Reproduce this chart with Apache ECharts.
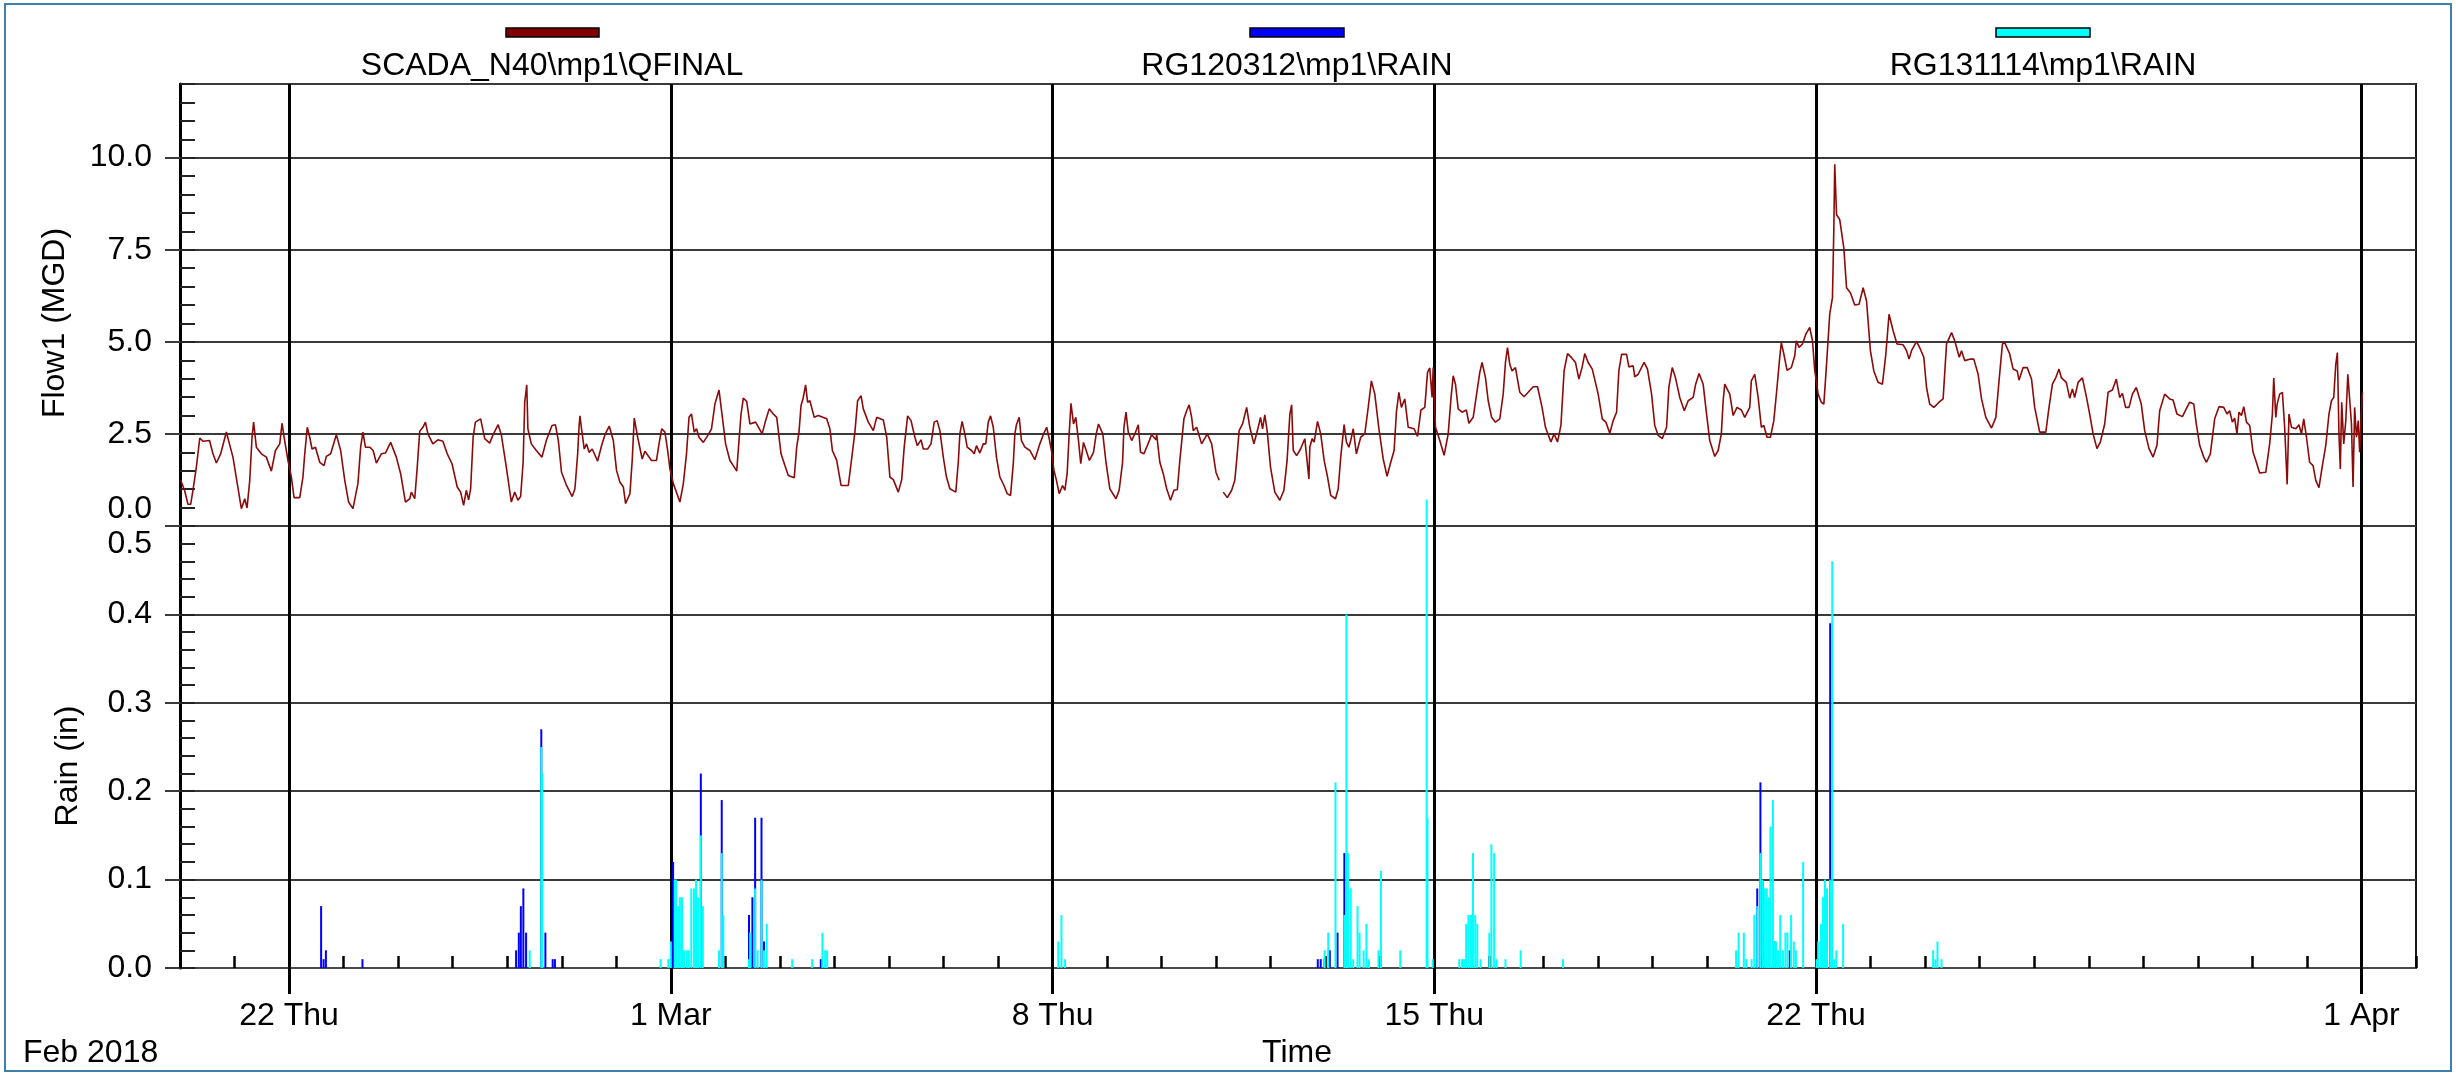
<!DOCTYPE html>
<html>
<head>
<meta charset="utf-8">
<script src="https://cdn.jsdelivr.net/npm/echarts@6/dist/echarts.min.js"></script>
<style>
  html, body { margin: 0; padding: 0; background: #fff; }
  #chart { width: 2456px; height: 1076px; }
</style>
</head>
<body>
<div id="chart"></div>
<script>
// x values are hours since 20 Feb 2018 00:00
const xMax = 984;
const majorHours = [48, 216, 384, 552, 720, 960];
const majorLabels = ['22 Thu', '1 Mar', '8 Thu', '15 Thu', '22 Thu', '1 Apr'];
const seriesNames = ['SCADA_N40\\mp1\\QFINAL', 'RG120312\\mp1\\RAIN', 'RG131114\\mp1\\RAIN'];

// Flow1 (MGD), [hour, value]
const flowPoints = [
  [0.3,1.24],[2.0,0.97],[3.5,0.59],[4.7,0.59],[5.7,0.97],[7.2,1.6],[8.7,2.39],[10.1,2.3],[13.0,2.32],[14.5,1.96],
  [16.0,1.71],[17.9,1.96],[20.4,2.55],[21.1,2.5],[23.3,1.87],[25.2,1.15],[27.0,0.47],[28.5,0.74],[29.5,0.49],[30.7,1.24],
  [31.7,2.41],[32.4,2.82],[33.6,2.14],[35.8,1.96],[38.0,1.87],[40.2,1.49],[42.0,2.05],[43.9,2.23],[44.9,2.79],[45.8,2.41],
  [47.5,1.78],[49.0,1.33],[50.2,0.77],[52.7,0.77],[54.1,1.33],[54.9,1.96],[56.0,2.68],[57.1,2.41],[58.1,2.09],[59.6,2.14],
  [61.5,1.73],[63.4,1.64],[64.4,1.89],[66.3,1.96],[68.8,2.48],[70.7,2.05],[72.5,1.24],[74.2,0.65],[76.1,0.47],[78.3,1.15],
  [79.5,2.14],[80.5,2.55],[81.6,2.14],[83.5,2.14],[85.0,2.05],[86.4,1.71],[88.6,1.96],[90.4,1.98],[92.7,2.27],[95.2,1.87],
  [97.1,1.42],[99.2,0.65],[101.1,0.74],[101.8,0.92],[103.3,0.74],[104.4,1.6],[105.5,2.57],[106.9,2.68],[108.0,2.82],[109.1,2.5],
  [111.3,2.23],[113.5,2.34],[115.7,2.3],[117.6,1.96],[119.7,1.69],[122.0,1.06],[123.5,0.92],[124.8,0.56],[126.0,0.97],[127.0,0.71],
  [127.9,1.01],[129.0,2.41],[130.0,2.82],[132.3,2.91],[134.1,2.37],[136.3,2.25],[137.8,2.48],[140.0,2.75],[141.4,2.48],[143.6,1.6],
  [145.8,0.65],[147.3,0.92],[148.7,0.7],[149.9,0.8],[151.0,1.73],[151.7,3.36],[152.6,3.83],[153.1,2.64],[154.6,2.23],[156.8,2.05],
  [159.3,1.87],[161.2,2.32],[163.7,2.73],[165.2,2.75],[166.5,2.32],[167.9,1.46],[170.1,1.10],[172.6,0.80],[173.8,1.01],[175.0,1.96],
  [175.6,2.68],[176.0,2.99],[176.7,2.64],[177.9,2.09],[178.9,2.23],[180.0,2.0],[181.4,2.09],[183.8,1.76],[185.5,2.18],[187.0,2.48],
  [188.9,2.71],[190.7,2.32],[192.1,1.51],[193.6,1.19],[195.1,1.06],[196.1,0.61],[198.0,0.88],[199.0,1.78],[199.9,2.93],[201.4,2.41],
  [203.4,1.82],[204.6,2.03],[207.5,1.78],[209.7,1.78],[210.8,2.23],[212.0,2.64],[213.4,2.55],[214.6,2.05],[215.6,1.55],[217.1,1.15],
  [220.0,0.65],[221.5,1.15],[222.9,1.96],[224.0,2.95],[225.1,3.04],[226.3,2.55],[227.3,2.64],[228.4,2.41],[230.3,2.27],[232.5,2.48],
  [233.9,2.64],[235.4,3.31],[237.2,3.69],[238.4,3.09],[240.1,2.23],[242.0,1.78],[243.5,1.64],[245.0,1.49],[246.0,2.32],[246.9,3.04],
  [247.9,3.47],[249.4,3.38],[250.8,2.77],[253.3,2.82],[256.2,2.5],[257.7,2.86],[259.3,3.18],[261.1,3.04],[262.6,2.95],[264.5,1.96],
  [266.2,1.64],[267.7,1.37],[270.3,1.31],[271.4,2.14],[272.4,2.55],[273.3,3.27],[274.3,3.49],[275.3,3.83],[276.2,3.36],[277.2,3.40],
  [279.1,2.95],[280.9,3.0],[284.6,2.91],[286.0,2.64],[287.1,2.05],[289.0,1.78],[290.9,1.10],[294.1,1.10],[295.3,1.69],[297.0,2.55],
  [298.2,3.40],[299.7,3.54],[300.7,3.18],[302.9,2.82],[305.1,2.59],[306.6,2.95],[309.5,2.88],[311.0,2.41],[312.4,1.33],[313.9,1.26],
  [316.1,0.92],[317.6,1.26],[318.7,2.14],[320.2,2.99],[321.7,2.86],[323.4,2.41],[324.5,2.18],[326.1,2.34],[327.1,2.09],[329.0,2.09],
  [330.5,2.23],[331.9,2.82],[333.2,2.86],[334.4,2.59],[335.9,1.87],[337.3,1.33],[338.8,1.01],[341.4,0.92],[342.5,1.73],[343.2,2.5],
  [344.2,2.84],[345.4,2.5],[346.4,2.14],[348.3,2.05],[349.5,1.96],[350.5,2.18],[352.0,1.98],[353.5,2.23],[354.6,2.23],[355.7,2.82],
  [356.7,2.99],[357.9,2.68],[359.3,1.87],[360.8,1.33],[362.6,1.10],[364.0,0.88],[365.5,0.83],[366.7,1.69],[367.4,2.5],[368.1,2.75],
  [369.3,2.95],[370.3,2.32],[371.8,2.14],[374.0,2.05],[376.2,1.80],[378.4,2.23],[379.9,2.48],[381.4,2.68],[382.5,2.37],[383.5,2.05],
  [384.6,1.51],[385.7,1.24],[386.9,0.88],[388.4,1.10],[389.4,0.97],[390.4,1.42],[391.3,2.5],[392.1,3.33],[393.2,2.77],[394.2,2.95],
  [395.4,2.32],[396.4,1.69],[397.6,2.27],[398.8,2.05],[400.2,1.78],[402.0,2.0],[403.2,2.5],[404.2,2.77],[406.1,2.5],[407.5,1.73],
  [409.2,1.01],[411.9,0.74],[413.3,0.97],[414.8,1.73],[415.4,2.68],[416.3,3.09],[417.3,2.55],[418.8,2.32],[420.2,2.5],[421.7,2.75],
  [422.7,2.0],[424.2,1.96],[425.4,2.14],[427.6,2.48],[429.5,2.34],[429.8,2.48],[431.2,1.73],[432.7,1.42],[434.2,1.01],[435.9,0.70],
  [437.4,0.97],[438.9,0.99],[440.0,1.78],[441.8,2.91],[443.0,3.13],[444.1,3.29],[445.2,2.95],[445.9,2.59],[447.4,2.68],[449.6,2.23],
  [452.1,2.5],[454.0,2.23],[455.9,1.46],[457.3,1.24],[458.2,'-'],[459.1,0.92],[460.9,0.77],[462.8,0.97],[464.2,1.24],[465.0,1.78],
  [466.1,2.59],[467.6,2.77],[469.4,3.22],[470.8,2.68],[472.6,2.23],[474.5,2.68],[475.5,2.95],[476.4,2.64],[477.4,3.02],[478.5,2.55],
  [479.9,1.6],[481.8,0.92],[484.0,0.70],[485.8,0.97],[487.2,1.78],[488.4,3.02],[489.2,3.29],[489.9,2.05],[491.4,1.91],[493.1,2.09],
  [495.0,2.37],[496.8,1.28],[497.2,2.14],[498.2,2.37],[499.1,2.28],[500.6,2.84],[502.0,2.5],[503.5,1.78],[505.0,1.33],[506.4,0.83],
  [508.5,0.74],[509.7,1.01],[510.8,1.87],[512.3,2.75],[513.3,2.28],[514.4,2.14],[515.2,2.32],[516.3,2.64],[517.7,1.96],[519.6,2.41],
  [521.4,2.5],[522.9,3.22],[524.3,3.94],[525.8,3.58],[527.6,2.64],[529.5,1.82],[531.2,1.35],[532.8,1.73],[534.3,2.05],[535.3,3.09],
  [536.4,3.63],[537.5,3.22],[539.0,3.45],[540.5,2.68],[543.1,2.64],[544.6,2.43],[546.1,3.15],[547.8,3.22],[549.0,4.17],[550.0,4.29],
  [551.0,3.49],[551.5,4.30],[552.5,2.68],[554.4,2.32],[556.3,1.92],[558.1,2.5],[559.3,3.45],[560.3,4.08],[561.3,3.85],[562.5,3.18],
  [564.2,3.09],[566.1,3.15],[567.2,2.79],[569.1,2.95],[570.5,3.54],[572.0,4.17],[573.0,4.44],[574.5,4.03],[575.7,3.40],[577.2,2.95],
  [578.9,2.82],[580.8,2.91],[582.3,3.58],[583.3,4.44],[584.2,4.84],[585.2,4.39],[586.2,4.21],[587.7,4.30],[589.6,3.63],[591.5,3.51],
  [593.3,3.63],[595.5,3.78],[597.4,3.78],[599.4,3.22],[600.9,2.68],[603.3,2.28],[604.7,2.5],[606.2,2.28],[607.7,2.73],[609.1,4.21],
  [610.6,4.68],[612.4,4.57],[614.1,4.44],[615.6,3.99],[617.0,4.30],[618.2,4.68],[619.7,4.44],[621.5,4.26],[624.1,3.58],[625.9,2.91],
  [627.5,2.82],[629.2,2.52],[630.7,2.86],[632.2,3.09],[633.2,4.21],[634.4,4.66],[636.6,4.66],[637.6,4.32],[639.5,4.35],[640.2,4.05],
  [641.7,4.12],[644.3,4.44],[645.8,4.26],[647.6,3.58],[649.0,2.73],[650.5,2.46],[652.3,2.37],[654.2,2.68],[655.2,3.76],[656.7,4.30],
  [658.1,4.03],[660.0,3.49],[662.0,3.13],[663.7,3.40],[665.9,3.49],[667.0,3.85],[668.5,4.14],[670.3,3.85],[671.7,3.09],[673.2,2.32],
  [675.4,1.89],[676.9,2.05],[678.3,2.5],[679.1,3.40],[679.8,3.85],[682.0,3.58],[683.5,3.0],[685.2,3.22],[687.1,3.15],[688.6,2.95],
  [690.8,3.22],[691.5,3.94],[693.0,4.12],[694.5,3.49],[695.9,2.68],[697.0,2.73],[698.4,2.41],[699.9,2.41],[701.4,2.86],[702.8,3.76],
  [704.0,4.58],[704.7,4.98],[705.8,4.67],[707.2,4.23],[709.1,4.30],[710.6,4.62],[711.3,5.03],[712.5,4.85],[714.0,4.94],[715.5,5.21],
  [717.2,5.39],[718.4,5.03],[719.4,4.23],[720.9,3.58],[722.3,3.36],[723.4,3.31],[724.5,4.30],[726.0,5.75],[727.2,6.20],[727.8,8.05],
  [728.2,9.82],[729.0,8.45],[730.4,8.32],[732.2,7.55],[733.4,6.47],[735.1,6.33],[737.0,6.0],[738.9,6.02],[740.7,6.47],[742.2,6.11],
  [743.9,4.76],[745.4,4.21],[747.3,3.90],[749.2,3.85],[750.7,4.67],[752.1,5.75],[753.9,5.30],[755.6,4.94],[758.3,4.92],[759.8,4.76],
  [760.9,4.53],[762.0,4.76],[764.2,5.01],[765.9,4.80],[767.4,4.58],[768.6,3.76],[770.0,3.31],[771.8,3.22],[774.1,3.36],[775.9,3.45],
  [777.4,4.94],[779.6,5.25],[781.0,5.03],[783.0,4.58],[784.0,4.76],[785.4,4.49],[787.6,4.53],[789.4,4.53],[791.3,4.12],[792.8,3.45],
  [794.7,2.95],[797.2,2.66],[799.1,2.95],[800.5,3.94],[802.0,4.94],[803.0,4.98],[805.2,4.67],[806.7,4.26],[808.5,4.21],[809.3,3.96],
  [811.1,4.30],[812.9,4.30],[814.8,3.99],[816.2,3.22],[818.4,2.55],[821.1,2.55],[822.5,3.22],[824.0,3.85],[825.5,4.03],[826.9,4.26],
  [827.9,4.03],[830.1,3.90],[831.6,3.47],[832.8,3.72],[833.8,3.49],[835.3,3.90],[837.2,4.02],[839.0,3.49],[840.4,3.04],[841.9,2.5],
  [843.6,2.10],[845.1,2.28],[847.0,2.77],[848.5,3.63],[850.4,3.69],[852.1,3.99],[853.6,3.49],[854.8,3.60],[856.2,3.22],[857.7,3.22],
  [859.2,3.58],[860.9,3.76],[863.1,3.31],[864.6,2.59],[866.5,2.10],[868.3,1.87],[870.0,2.19],[871.2,3.13],[873.4,3.58],[875.6,3.45],
  [877.1,3.42],[878.8,3.04],[881.2,2.97],[882.9,3.18],[884.4,3.36],[886.2,3.31],[887.3,2.77],[888.8,2.19],[890.6,1.87],[891.8,1.73],
  [893.5,1.96],[895.4,2.91],[897.3,3.24],[899.4,3.22],[900.8,3.04],[902.0,3.13],[903.2,2.82],[904.2,2.93],[905.2,2.5],[906.1,3.09],
  [907.2,3.0],[908.2,3.24],[909.4,2.82],[910.8,2.73],[912.3,2.0],[913.5,1.78],[915.2,1.44],[917.9,1.46],[919.6,2.23],[920.8,3.04],
  [921.4,4.02],[922.3,2.95],[922.9,3.31],[924.0,3.58],[925.2,3.63],[926.2,2.68],[927.3,1.13],[928.1,3.04],[929.2,2.68],[931.1,2.64],
  [932.5,2.75],[933.6,2.5],[934.6,2.91],[935.8,2.41],[937.2,1.73],[938.7,1.64],[939.9,1.24],[941.3,1.04],[942.8,1.64],[944.3,2.19],
  [945.7,3.04],[946.8,3.40],[947.8,3.49],[948.7,4.39],[949.4,4.71],[950.1,2.5],[950.7,1.55],[951.3,3.36],[952.2,2.23],[953.1,2.86],
  [954.0,4.12],[954.8,4.17],[955.6,2.77],[956.3,1.06],[957.0,3.22],[957.8,2.41],[958.6,2.86],[959.2,2.0],[959.8,2.86],[960.4,3.63]
];

// RG120312 rain (in), [hour, value]
const blueRain = [
  [62.1,0.07],[63.2,0.01],[64.2,0.02],[80.3,0.01],
  [147.9,0.02],[149.1,0.04],[150.0,0.07],[151.1,0.09],[152.3,0.04],[159.0,0.27],[160.8,0.04],[164.0,0.01],[165.0,0.01],
  [217.0,0.12],[229.2,0.22],[238.4,0.19],[250.4,0.06],[251.9,0.08],[253.1,0.17],[255.9,0.17],[257.0,0.03],[282.0,0.01],
  [500.7,0.01],[502.0,0.01],[503.7,0.01],[506.0,0.02],[509.4,0.04],[512.4,0.13],
  [694.1,0.09],[695.5,0.21],[696.4,0.10],[701.7,0.03],[708.4,0.02],[726.2,0.39]
];

// RG131114 rain (in), [hour, value]
const cyanRain = [
  [153.9,0.02],[159.0,0.25],[159.4,0.22],
  [211.5,0.01],[214.9,0.01],[216.0,0.03],[217.7,0.10],[218.3,0.10],[219.3,0.07],[220.0,0.08],[220.9,0.08],[221.8,0.02],
  [223.0,0.02],[223.9,0.02],[225.0,0.09],[226.2,0.09],[227.1,0.10],[228.0,0.08],[229.2,0.15],[230.1,0.07],
  [237.2,0.02],[238.4,0.13],[239.1,0.06],[250.4,0.01],[250.9,0.04],[253.1,0.09],[254.2,0.02],[255.9,0.10],[257.0,0.02],
  [258.2,0.05],[269.4,0.01],[278.2,0.01],[282.7,0.04],[283.9,0.02],[284.8,0.02],
  [386.5,0.03],[387.9,0.06],[389.5,0.01],
  [503.7,0.02],[505.3,0.04],[508.5,0.21],[512.4,0.06],[513.3,0.40],[514.0,0.13],[515.2,0.09],[516.3,0.01],[518.2,0.07],
  [519.1,0.04],[520.9,0.02],[522.1,0.05],[523.2,0.01],[527.4,0.02],[528.5,0.11],[537.0,0.02],[548.6,0.53],[549.0,0.17],[551.3,0.01],
  [563.0,0.01],[564.2,0.01],[565.1,0.01],[566.0,0.05],[567.0,0.06],[568.1,0.06],[569.0,0.13],[570.0,0.06],[570.9,0.05],
  [572.3,0.01],[576.2,0.04],[577.1,0.14],[578.3,0.13],[579.4,0.01],[583.3,0.01],[590.0,0.02],[608.6,0.01],
  [684.8,0.02],[685.9,0.04],[688.2,0.04],[689.3,0.01],[691.6,0.01],[692.8,0.06],[694.1,0.07],[695.5,0.13],[696.4,0.10],
  [697.4,0.09],[698.3,0.09],[699.2,0.08],[699.9,0.16],[701.0,0.19],[701.7,0.03],[702.4,0.03],[703.3,0.02],[704.2,0.06],
  [705.4,0.02],[706.5,0.04],[707.4,0.04],[709.0,0.06],[710.2,0.03],[711.1,0.02],[714.3,0.12],
  [720.2,0.01],[720.9,0.03],[722.1,0.05],[723.0,0.08],[723.9,0.10],[724.8,0.09],[726.2,0.10],[727.1,0.46],[728.0,0.01],
  [728.9,0.02],[731.9,0.05],
  [771.5,0.02],[772.5,0.01],[773.4,0.03],[775.2,0.01]
];

const FONT = '"Liberation Sans", Arial, sans-serif';
const gridLine = { color: '#3a3a3a', width: 2 };
const majorLine = { color: '#000', width: 3 };

const chart = echarts.init(document.getElementById('chart'), null, { renderer: 'canvas' });

const hourAxis = (gridIndex, extra) => Object.assign({
  type: 'value', gridIndex, min: 0, max: xMax, position: 'bottom',
  axisLine: { show: false }, axisLabel: { show: false },
  axisTick: { show: false }, splitLine: { show: false }
}, extra);

chart.setOption({
  animation: false,
  backgroundColor: '#fff',
  grid: [
    { left: 180, right: 40, top: 84, height: 442, show: true, borderColor: '#1a1a1a', borderWidth: 2 },
    { left: 180, right: 40, top: 526, height: 442, show: true, borderColor: '#1a1a1a', borderWidth: 2 }
  ],
  xAxis: [
    hourAxis(0, {
      axisTick: { show: false, customValues: majorHours },
      splitLine: { show: true, lineStyle: majorLine }
    }),
    hourAxis(1, {
      axisLine: { show: true, onZero: false, lineStyle: { color: '#4a4a4a', width: 2 } },
      axisTick: { show: true, customValues: majorHours, inside: false, length: 26, lineStyle: majorLine },
      axisLabel: {
        show: true, customValues: majorHours, margin: 32,
        color: '#000', fontSize: 32, fontFamily: FONT,
        formatter: (v) => majorLabels[majorHours.indexOf(v)]
      },
      splitLine: { show: true, lineStyle: majorLine }
    }),
    hourAxis(1, {
      interval: 24,
      axisTick: { show: true, inside: true, length: 12, lineStyle: { color: '#000', width: 2.5 } }
    })
  ],
  yAxis: [
    {
      type: 'value', gridIndex: 0, position: 'left', min: 0, max: 12, interval: 2.5,
      axisLine: { show: true, lineStyle: { color: '#000', width: 3 } },
      axisTick: { show: true, inside: false, length: 15, lineStyle: gridLine },
      axisLabel: {
        color: '#000', fontSize: 32, fontFamily: FONT, margin: 28,
        showMinLabel: true, showMaxLabel: false,
        formatter: (v) => v === 0 ? '{lo|0.0}' : v.toFixed(1),
        rich: { lo: { fontSize: 32, fontFamily: FONT, color: '#000', padding: [0, 0, 34, 0] } }
      },
      splitLine: { show: true, lineStyle: gridLine }
    },
    {
      type: 'value', gridIndex: 0, position: 'left', offset: 0, min: 0, max: 12, interval: 0.5,
      axisLine: { show: false }, axisLabel: { show: false }, splitLine: { show: false },
      axisTick: { show: true, inside: true, length: 15, lineStyle: { color: '#222', width: 2 } }
    },
    {
      type: 'value', gridIndex: 1, position: 'left', min: 0, max: 0.5, interval: 0.1,
      axisLine: { show: true, lineStyle: { color: '#000', width: 3 } },
      axisTick: { show: true, inside: false, length: 15, lineStyle: gridLine },
      axisLabel: {
        color: '#000', fontSize: 32, fontFamily: FONT, margin: 28,
        showMinLabel: true, showMaxLabel: true,
        formatter: (v) => v >= 0.499 ? '{hi|0.5}' : v.toFixed(1),
        rich: { hi: { fontSize: 32, fontFamily: FONT, color: '#000', padding: [36, 0, 0, 0] } }
      },
      splitLine: { show: true, lineStyle: gridLine }
    },
    {
      type: 'value', gridIndex: 1, position: 'left', offset: 0, min: 0, max: 0.5, interval: 0.02,
      axisLine: { show: false }, axisLabel: { show: false }, splitLine: { show: false },
      axisTick: { show: true, inside: true, length: 15, lineStyle: { color: '#222', width: 2 } }
    }
  ],
  series: [
    {
      name: seriesNames[0], type: 'line', xAxisIndex: 0, yAxisIndex: 0,
      data: flowPoints, showSymbol: false, connectNulls: false,
      lineStyle: { color: '#8b0a0a', width: 1.6 }, z: 3
    },
    {
      name: seriesNames[1], type: 'bar', xAxisIndex: 1, yAxisIndex: 2,
      data: blueRain, barWidth: 2, barGap: '-100%',
      itemStyle: { color: '#0000ff' }, z: 3
    },
    {
      name: seriesNames[2], type: 'bar', xAxisIndex: 1, yAxisIndex: 2,
      data: cyanRain, barWidth: 2, barGap: '-100%', clip: false,
      itemStyle: { color: '#00ffff' }, z: 4
    }
  ],
  graphic: [
    { type: 'rect', shape: { x: 5, y: 4, width: 2446, height: 1067 }, style: { fill: 'none', stroke: '#3f7fab', lineWidth: 2 }, silent: true },
    { type: 'rect', shape: { x: 506, y: 28, width: 93, height: 9 }, style: { fill: '#800000', stroke: '#000', lineWidth: 1.5 } },
    { type: 'rect', shape: { x: 1250, y: 28, width: 94, height: 9 }, style: { fill: '#0000ff', stroke: '#000', lineWidth: 1.5 } },
    { type: 'rect', shape: { x: 1996, y: 28, width: 94, height: 9 }, style: { fill: '#00ffff', stroke: '#000', lineWidth: 1.5 } },
    { type: 'text', x: 552, y: 66, style: { text: seriesNames[0], fontSize: 32, fontFamily: FONT, fill: '#000', align: 'center', verticalAlign: 'middle' } },
    { type: 'text', x: 1297, y: 66, style: { text: seriesNames[1], fontSize: 32, fontFamily: FONT, fill: '#000', align: 'center', verticalAlign: 'middle' } },
    { type: 'text', x: 2043, y: 66, style: { text: seriesNames[2], fontSize: 32, fontFamily: FONT, fill: '#000', align: 'center', verticalAlign: 'middle' } },
    { type: 'text', x: 55, y: 323, rotation: Math.PI / 2, style: { text: 'Flow1 (MGD)', fontSize: 32, fontFamily: FONT, fill: '#000', align: 'center', verticalAlign: 'middle' } },
    { type: 'text', x: 68, y: 766, rotation: Math.PI / 2, style: { text: 'Rain (in)', fontSize: 32, fontFamily: FONT, fill: '#000', align: 'center', verticalAlign: 'middle' } },
    { type: 'text', x: 1297, y: 1053, style: { text: 'Time', fontSize: 32, fontFamily: FONT, fill: '#000', align: 'center', verticalAlign: 'middle' } },
    { type: 'text', x: 23, y: 1053, style: { text: 'Feb 2018', fontSize: 32, fontFamily: FONT, fill: '#000', align: 'left', verticalAlign: 'middle' } }
  ]
});
</script>
</body>
</html>
